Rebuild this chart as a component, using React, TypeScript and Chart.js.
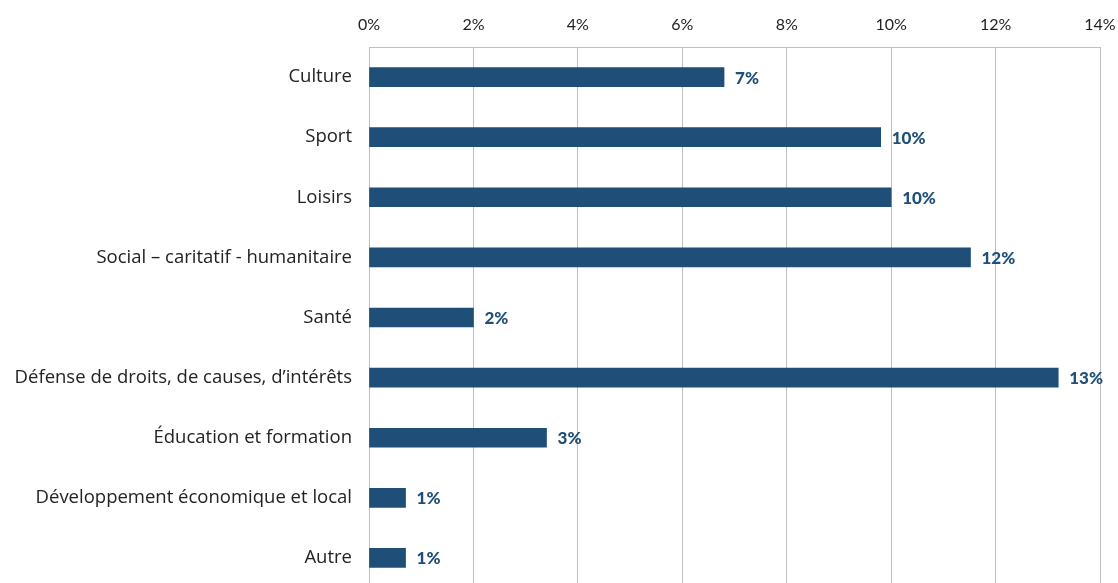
import React, { useEffect, useRef } from "react";
import { Chart, registerables } from "chart.js";

Chart.register(...registerables);

const categories = [
  "Culture",
  "Sport",
  "Loisirs",
  "Social – caritatif - humanitaire",
  "Santé",
  "Défense de droits, de causes, d’intérêts",
  "Éducation et formation",
  "Développement économique et local",
  "Autre",
];
const values = [6.8, 9.8, 10.0, 11.52, 2.0, 13.2, 3.4, 0.7, 0.7];
const valueLabels = ["7%", "10%", "10%", "12%", "2%", "13%", "3%", "1%", "1%"];
const xTicks = [0, 2, 4, 6, 8, 10, 12, 14];

const BAR_COLOR = "#1F4E79";
const GRID = "#BFBFBF";
const FONT = "'Open Sans', Lato, sans-serif";
const LABEL_FONT = "Lato, 'Open Sans', sans-serif";

const valueLabelPlugin = {
  id: "valueLabels",
  afterDatasetsDraw(chart: any) {
    const ctx = chart.ctx;
    const meta = chart.getDatasetMeta(0);
    ctx.save();
    ctx.fillStyle = BAR_COLOR;
    ctx.font = `900 17px ${LABEL_FONT}`;
    ctx.textAlign = "left";
    ctx.textBaseline = "middle";
    meta.data.forEach((bar: any, i: number) => {
      ctx.fillText(valueLabels[i], bar.x + 11, bar.y + 1);
    });
    ctx.restore();
  },
};

export default function App() {
  const ref = useRef<HTMLCanvasElement>(null);
  useEffect(() => {
    if (!ref.current) return;
    const chart = new Chart(ref.current, {
      type: "bar",
      data: {
        labels: categories,
        datasets: [
          {
            data: values,
            backgroundColor: BAR_COLOR,
            barThickness: 19,
          },
        ],
      },
      options: {
        indexAxis: "y",
        animation: false,
        responsive: false,
        maintainAspectRatio: false,
        layout: { padding: 0 },
        plugins: { legend: { display: false }, tooltip: { enabled: false } },
        scales: {
          x: {
            position: "top",
            min: 0,
            max: 14,
            afterBuildTicks: (scale: any) => {
              scale.ticks = xTicks.map((v) => ({ value: v }));
            },
            afterFit: (scale: any) => {
              scale.height = 47;
              scale.paddingLeft = 0;
              scale.paddingRight = 18;
            },
            ticks: {
              callback: (v: any) => `${v}%`,
              color: "#222",
              font: { family: LABEL_FONT, size: 16 },
              padding: 13,
              maxRotation: 0,
            },
            grid: { color: GRID, lineWidth: 1, drawTicks: false },
            border: { display: true, color: GRID },
          },
          y: {
            afterFit: (scale: any) => {
              scale.width = 369;
              scale.paddingTop = 0;
              scale.paddingBottom = 0;
            },
            ticks: {
              color: "#222",
              font: { family: FONT, size: 18.5 },
              padding: 17,
            },
            grid: { display: false, drawTicks: false },
            border: { display: true, color: GRID },
          },
        },
      },
      plugins: [valueLabelPlugin],
    });
    return () => chart.destroy();
  }, []);
  return (
    <div
      style={{
        position: "fixed",
        left: 0,
        top: 0,
        width: 1118,
        height: 583,
        overflow: "hidden",
        background: "#fff",
      }}
    >
      <canvas ref={ref} width={1118} height={588} style={{ width: 1118, height: 588 }} />
    </div>
  );
}
